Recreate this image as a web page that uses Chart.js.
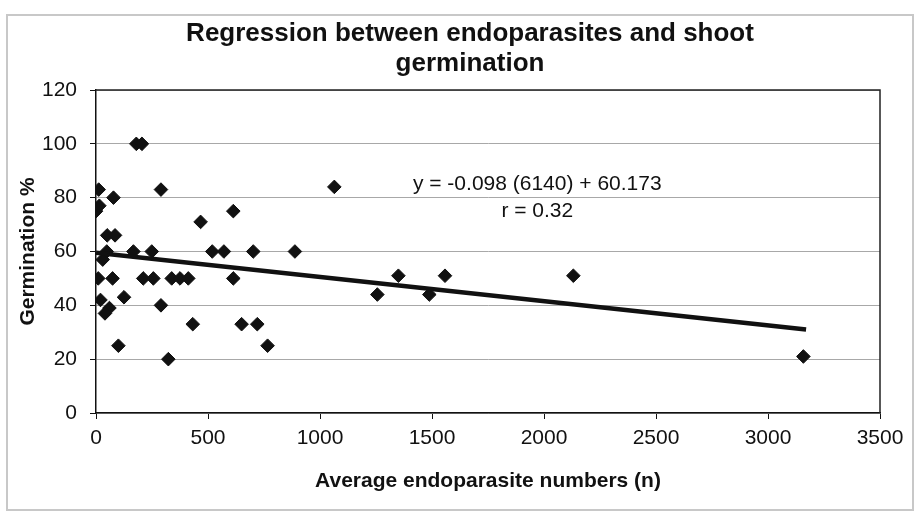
<!DOCTYPE html>
<html>
<head>
<meta charset="utf-8">
<title>Regression between endoparasites and shoot germination</title>
<script src="https://cdn.jsdelivr.net/npm/chart.js@4.4.1/dist/chart.umd.min.js"></script>
<style>
  html, body { margin: 0; padding: 0; background: #fff; }
  #wrap { width: 917px; height: 514px; }
</style>
</head>
<body>
<div id="wrap"><canvas id="chart" width="917" height="514"></canvas></div>
<script>
// Values
const titleLines = ['Regression between endoparasites and shoot', 'germination'];
const xTitle = 'Average endoparasite numbers (n)';
const yTitle = 'Germination %';
const equationLines = ['y = -0.098 (6140) + 60.173', 'r = 0.32'];

// endoparasite numbers (x) and germination % (y)
const parasites = [180, 205, 12, 290, 1064, 78, 0, 15, 613, 467, 50, 85, 30, 48,
  167, 249, 519, 571, 702, 888,
  10, 74, 211, 256, 338, 375, 412, 613,
  1350, 1558, 2131, 1256, 1488,
  20, 125, 60, 40, 290, 432, 650, 720, 100, 766, 323, 3158];
const germination = [100, 100, 83, 83, 84, 80, 75, 77, 75, 71, 66, 66, 57, 60,
  60, 60, 60, 60, 60, 60,
  50, 50, 50, 50, 50, 50, 50, 50,
  51, 51, 51, 44, 44,
  42, 43, 39, 37, 40, 33, 33, 33, 25, 25, 20, 21];

// trend line end points
const trendX = [0, 3170];
const trendY = [59.5, 31];

// equation label anchor (in data units)
const eqX = [1970, 1970];
const eqY = [85, 75];

const font = '"Liberation Sans", Arial, sans-serif';
const ink = '#111';

// Build point lists for the library
const points = parasites.map((x, i) => ({ x: x, y: germination[i] }));
const trend = trendX.map((x, i) => ({ x: x, y: trendY[i] }));

// white background, outer frame, title, plot border and equation
const decor = {
  id: 'decor',
  beforeDraw(chart) {
    const ctx = chart.ctx;
    ctx.save();
    ctx.fillStyle = '#fff';
    ctx.fillRect(0, 0, chart.width, chart.height);
    ctx.strokeStyle = '#c8c8c8';
    ctx.lineWidth = 2;
    ctx.strokeRect(7, 15, 906, 495);
    ctx.restore();
  },
  afterDatasetsDraw(chart) {
    const ctx = chart.ctx;
    const a = chart.chartArea;
    const xs = chart.scales.x, ys = chart.scales.y;
    ctx.save();
    // right and top edges of the plot
    ctx.strokeStyle = '#222';
    ctx.lineWidth = 1.5;
    ctx.beginPath();
    ctx.moveTo(a.left, a.top);
    ctx.lineTo(a.right, a.top);
    ctx.lineTo(a.right, a.bottom);
    ctx.stroke();

    // title
    ctx.fillStyle = ink;
    ctx.textAlign = 'center';
    ctx.textBaseline = 'middle';
    ctx.font = 'bold 26px ' + font;
    titleLines.forEach((t, i) => ctx.fillText(t, 470, 34 + i * 30));

    // equation
    ctx.font = '21px ' + font;
    equationLines.forEach((t, i) => {
      ctx.fillText(t, xs.getPixelForValue(eqX[i]), ys.getPixelForValue(eqY[i]));
    });
    ctx.restore();
  }
};

const ctx = document.getElementById('chart').getContext('2d');
const chart = new Chart(ctx, {
  type: 'scatter',
  data: {
    datasets: [
      {
        label: 'Germination',
        data: points,
        pointStyle: 'rectRot',
        pointRadius: 6.8,
        pointBorderWidth: 1,
        backgroundColor: '#111',
        borderColor: '#111',
        order: 2
      },
      {
        type: 'line',
        label: 'Regression',
        data: trend,
        borderColor: '#111',
        borderWidth: 4.5,
        pointRadius: 0,
        fill: false,
        order: 1
      }
    ]
  },
  options: {
    responsive: false,
    animation: false,
    devicePixelRatio: 1,
    layout: { padding: { left: 0, right: 37, top: 90, bottom: 0 } },
    plugins: {
      legend: { display: false },
      tooltip: { enabled: false },
      title: { display: false }
    },
    scales: {
      x: {
        type: 'linear',
        min: 0,
        max: 3500,
        ticks: {
          stepSize: 500, color: ink, font: { family: font, size: 21 }, padding: 7, maxRotation: 0,
          callback: (v) => String(v)
        },
        grid: { drawOnChartArea: false, drawTicks: true, tickLength: 6, tickColor: '#111' },
        border: { color: '#111', width: 1.5 },
        title: { display: true, text: xTitle, color: ink, font: { family: font, size: 21, weight: 'bold' }, padding: { top: 0, bottom: 20 } },
        afterFit(scale) { scale.height = 101; }
      },
      y: {
        min: 0,
        max: 120,
        ticks: { stepSize: 20, color: ink, font: { family: font, size: 21 }, padding: 13 },
        grid: { color: '#a8a8a8', lineWidth: 1, tickLength: 6, tickColor: '#111' },
        border: { color: '#111', width: 1.5 },
        title: { display: true, text: yTitle, color: ink, font: { family: font, size: 21, weight: 'bold' }, padding: { top: 16, bottom: 0 } },
        afterFit(scale) { scale.width = 96; }
      }
    }
  },
  plugins: [decor]
});
</script>
</body>
</html>
